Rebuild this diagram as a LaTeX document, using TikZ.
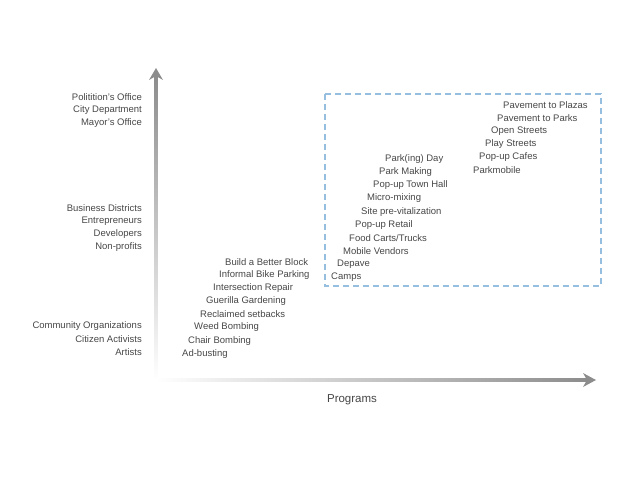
\documentclass[tikz,border=0pt]{standalone}
\usepackage{fontspec}
\setmainfont{Liberation Sans}
\usetikzlibrary{arrows.meta}
\definecolor{tx}{RGB}{70,70,70}
\definecolor{ax}{RGB}{140,140,140}
\definecolor{bx}{RGB}{150,190,222}
\begin{document}
\begin{tikzpicture}[x=1pt,y=-1pt,
  lab/.style={anchor=east,text=tx,font=\fontsize{9.5}{10}\selectfont,inner sep=0pt},
  item/.style={anchor=west,text=tx,font=\fontsize{9.5}{10}\selectfont,inner sep=0pt}]
\useasboundingbox (0,0) rectangle (620,479);
% axes
\shade[bottom color=white,top color=ax] (154.5,380) rectangle (157.5,74);
\fill[ax] (149,80) -- (156,68) -- (163,80) -- (156,76) -- cycle;
\shade[left color=white,right color=ax] (156,378.5) rectangle (588,381.5);
\fill[ax] (583,373) -- (596,380) -- (583,387) -- (587,380) -- cycle;
\coordinate (ya) at (156,74);
\coordinate (xa) at (588,380);
\node[text=tx,font=\fontsize{11.5}{12}\selectfont] (prog) at (352,400) {Programs};
% box
\draw[bx,line width=1.2pt,dash pattern=on 6pt off 4pt] (325,94) rectangle (601,286);
% left labels
\node[lab] (l1) at (142,97) {Politition's Office};
\node[lab] (l2) at (142,110) {City Department};
\node[lab] (l3) at (142,123) {Mayor's Office};
\node[lab] (l4) at (142,208) {Business Districts};
\node[lab] (l5) at (142,221) {Entrepreneurs};
\node[lab] (l6) at (142,234) {Developers};
\node[lab] (l7) at (142,247) {Non-profits};
\node[lab] (l8) at (142,326) {Community Organizations};
\node[lab] (l9) at (142,339) {Citizen Activists};
\node[lab] (l10) at (142,352) {Artists};
% diagonal 1
\node[item] (a1) at (225,262) {Build a Better Block};
\node[item] (a2) at (219,275) {Informal Bike Parking};
\node[item] (a3) at (213,288) {Intersection Repair};
\node[item] (a4) at (206,301) {Guerilla Gardening};
\node[item] (a5) at (200,314) {Reclaimed setbacks};
\node[item] (a6) at (194,327) {Weed Bombing};
\node[item] (a7) at (188,341) {Chair Bombing};
\node[item] (a8) at (182,354) {Ad-busting};
% diagonal 2
\node[item] (b1) at (385,159) {Park(ing) Day};
\node[item] (b2) at (379,172) {Park Making};
\node[item] (b3) at (373,185) {Pop-up Town Hall};
\node[item] (b4) at (367,198) {Micro-mixing};
\node[item] (b5) at (361,212) {Site pre-vitalization};
\node[item] (b6) at (355,225) {Pop-up Retail};
\node[item] (b7) at (349,238) {Food Carts/Trucks};
\node[item] (b8) at (343,251) {Mobile Vendors};
\node[item] (b9) at (337,264) {Depave};
\node[item] (b10) at (331,277) {Camps};
% diagonal 3
\node[item] (c1) at (503,105) {Pavement to Plazas};
\node[item] (c2) at (497,118) {Pavement to Parks};
\node[item] (c3) at (491,131) {Open Streets};
\node[item] (c4) at (485,144) {Play Streets};
\node[item] (c5) at (479,157) {Pop-up Cafes};
\node[item] (c6) at (473,170) {Parkmobile};
\end{tikzpicture}
\end{document}
